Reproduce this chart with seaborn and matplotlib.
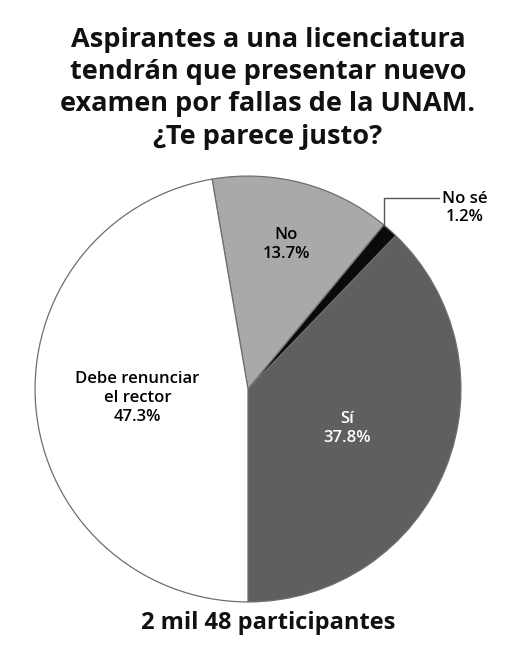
import numpy as np
import matplotlib
matplotlib.use("Agg")
import matplotlib.pyplot as plt
import seaborn as sns

# data
categories = ["Sí", "No sé", "No", "Debe renunciar\nel rector"]
values = [37.8, 1.2, 13.7, 47.3]
colors = ["#5f5f61", "#0a0a0a", "#a9a9ab", "#ffffff"]
text_colors = ["white", "black", "black", "black"]
title = "Aspirantes a una licenciatura\ntendrán que presentar nuevo\nexamen por fallas de la UNAM.\n¿Te parece justo?"
footer = "2 mil 48 participantes"

sns.set_theme(style="white")
plt.rcParams["font.family"] = ["Open Sans", "DejaVu Sans"]

fig = plt.figure(figsize=(5.15, 6.48), dpi=100)
fig.patch.set_facecolor("white")
ax = fig.add_axes([34 / 515, 45 / 648, 428 / 515, 428 / 648])

wedges, _ = ax.pie(values, colors=colors, startangle=270, counterclock=True,
                   radius=1, wedgeprops=dict(edgecolor="#6e6e6e", linewidth=0.9))
ax.set_xlim(-1.005, 1.005)
ax.set_ylim(-1.005, 1.005)
ax.set_aspect("equal")
ax.axis("off")

# labels inside slices
label_r = {0: 0.5, 2: 0.7, 3: 0.52}
for i, w in enumerate(wedges):
    mid = np.deg2rad((w.theta1 + w.theta2) / 2)
    txt = f"{categories[i]}\n{values[i]:.1f}%"
    if i in label_r:
        r = label_r[i]
        ax.text(r * np.cos(mid), r * np.sin(mid), txt, ha="center", va="center",
                fontsize=12, fontweight="semibold", color=text_colors[i],
                linespacing=1.25)
    else:
        # leader line from the rim of the small slice
        a = np.deg2rad(w.theta2)
        x0, y0 = np.cos(a), np.sin(a)
        ax.plot([x0, x0, x0 + 0.26], [y0, y0 + 0.127, y0 + 0.127], color="#555555",
                lw=1.0, clip_on=False)
        ax.text(x0 + 0.38, y0 + 0.08, txt, ha="center", va="center",
                fontsize=12, fontweight="semibold", color="black", linespacing=1.2)

fig.text(268 / 515, 1 - 27 / 648, title, ha="center", va="top", fontsize=19.5,
         fontweight="bold", linespacing=1.31, color="#111111")
fig.text(268 / 515, 1 - 623 / 648, footer, ha="center", va="center", fontsize=17,
         fontweight="bold", color="#111111")

fig.savefig("out.png", dpi=100, facecolor="white")
